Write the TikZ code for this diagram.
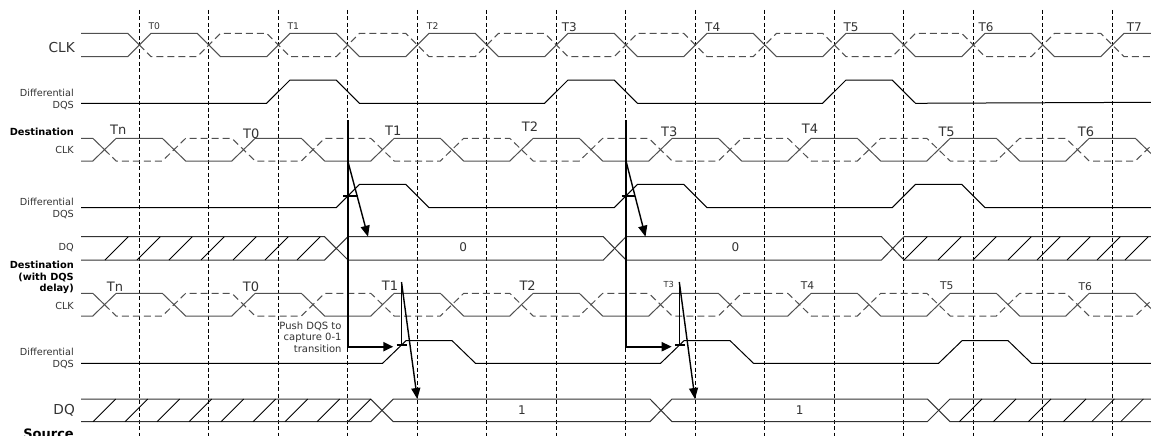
\documentclass[tikz,border=0pt]{standalone}
\usepackage{fontspec}
\setmainfont{DejaVu Sans}
\usetikzlibrary{arrows.meta}
\definecolor{clkc}{HTML}{505050}
\definecolor{txtc}{HTML}{333333}
\newcommand\fsz[1]{\fontsize{#1}{#1}\selectfont}
\def\hpw{69.5}
\def\trw{11.7}
% clock row: #1 first crossing x, #2 high y, #3 low y
\newcommand\clockrow[3]{%
  \draw[clk] (81,#3) \foreach \k in {0,2,...,14} { -- ({#1+\k*\hpw-\trw},#3) -- ({#1+\k*\hpw+\trw},#2) -- ({#1+(\k+1)*\hpw-\trw},#2) -- ({#1+(\k+1)*\hpw+\trw},#3) };
  \draw[clk] (81,#2) -- ({#1-\trw},#2) -- ({#1},{(#2+#3)/2});
  \draw[clkd] ({#1},{(#2+#3)/2}) -- ({#1+\trw},#3) \foreach \k in {1,3,...,15} { -- ({#1+\k*\hpw-\trw},#3) -- ({#1+\k*\hpw+\trw},#2) -- ({#1+(\k+1)*\hpw-\trw},#2) -- ({#1+(\k+1)*\hpw+\trw},#3) };
}
\begin{document}
\begin{tikzpicture}[x=1pt,y=-1pt,
  clk/.style={draw=clkc, line width=1pt},
  clkd/.style={draw=clkc, line width=1pt, dash pattern=on 7pt off 4pt},
  sig/.style={draw=black, line width=1pt},
  bus/.style={draw=txtc, line width=1pt},
  hatch/.style={draw=black, line width=0.8pt},
  gridl/.style={draw=black, line width=0.8pt, dash pattern=on 4pt off 2.5pt},
  thkarrow/.style={draw=black, line width=2pt, -{Triangle[length=10pt,width=9pt]}},
  diagarrow/.style={draw=black, line width=1.4pt, -{Triangle[length=11pt,width=9pt]}},
  thin/.style={draw=black, line width=1.2pt},
  lab/.style={anchor=base east, inner sep=0pt, text=txtc, font=\fsz{9.7}},
  blab/.style={anchor=base east, inner sep=0pt, text=black, font=\bfseries\fsz{9.8}},
  tlab/.style={anchor=base west, inner sep=0pt, text=txtc},
  val/.style={anchor=base, inner sep=0pt, text=txtc, font=\fsz{12}}
]
\useasboundingbox (0,0) rectangle (1151,436);
\clip (0,0) rectangle (1151,436);
\fill[white] (0,0) rectangle (1151,436);

% vertical dashed grid
\foreach \k in {0,...,14} \draw[gridl] ({139.3+\k*\hpw},10) -- ({139.3+\k*\hpw},436);

% clocks
\clockrow{139.3}{33.3}{56.7}
\clockrow{104.5}{138.3}{161}
\clockrow{104.5}{293.3}{316}

% DQS rows
\draw[sig] (81,103.3) -- (266.6,103.3) -- (290,80) -- (336.1,80) -- (359.5,103.3)
  -- (544.6,103.3) -- (568,80) -- (614.1,80) -- (637.5,103.3)
  -- (822.6,103.3) -- (846,80) -- (892.1,80) -- (915.5,103.3) -- (1151,102.3);
\draw[sig] (81,207.7) -- (336.1,207.7) -- (359.5,184.3) -- (405.6,184.3) -- (429,207.7)
  -- (614.1,207.7) -- (637.5,184.3) -- (683.6,184.3) -- (707,207.7)
  -- (892.1,207.7) -- (915.5,184.3) -- (961.6,184.3) -- (985,207.7) -- (1151,207.7);
\draw[sig] (81,363.3) -- (382.6,363.3) -- (406,340.7) -- (452.1,340.7) -- (475.5,363.3)
  -- (660.6,363.3) -- (684,340.7) -- (730.1,340.7) -- (753.5,363.3)
  -- (938.6,363.3) -- (962,340.7) -- (1008.1,340.7) -- (1031.5,363.3) -- (1151,363.3);

% DQ destination bus
\draw[bus] (81,236.7) -- (324.6,236.7) -- (348,260) -- (603.3,260) -- (626,236.7) -- (881.5,236.7) -- (904,260) -- (1160,260);
\draw[bus] (81,260) -- (324.6,260) -- (348,236.7) -- (603.3,236.7) -- (626,260) -- (881.5,260) -- (904,236.7) -- (1160,236.7);
\foreach \x in {105,137,169,201,233,265,297,904,938,973,1008,1037,1067,1097,1125}
  \draw[hatch] (\x,260) -- ({\x+23.3},236.7);

% DQ lower bus
\draw[bus] (81,399) -- (370.7,399) -- (393.3,421.7) -- (650,421.7) -- (672,399) -- (927.3,399) -- (950,421.7) -- (1160,421.7);
\draw[bus] (81,421.7) -- (370.7,421.7) -- (393.3,399) -- (650,399) -- (672,421.7) -- (927.3,421.7) -- (950,399) -- (1160,399);
\foreach \x in {93,125,157,189,221,253,285,317,348,959.3,993.3,1028.3,1063.3,1091.7,1120.7}
  \draw[hatch] (\x,421.7) -- ({\x+22.7},399);

% arrows and markers
\coordinate (a1s) at (347.8,120);
\coordinate (a1c) at (347.8,346.7);
\coordinate (a1e) at (393.3,346.7);
\coordinate (a2s) at (626,120);
\coordinate (a2c) at (626,346.7);
\coordinate (a2e) at (671.7,346.7);
\draw[thkarrow] (a1s) -- (a1c) -- (a1e);
\draw[thkarrow] (a2s) -- (a2c) -- (a2e);

\coordinate (b1s) at (347.8,161);
\coordinate (b1e) at (368,236.7);
\coordinate (b2s) at (626,161);
\coordinate (b2e) at (645.5,236.7);
\draw[diagarrow] (b1s) -- (b1e);
\draw[diagarrow] (b2s) -- (b2e);
\coordinate (k1a) at (343.3,196);
\coordinate (k1b) at (358.3,196);
\coordinate (k2a) at (621.7,196);
\coordinate (k2b) at (635,196);
\draw[thin] (k1a) -- (k1b);
\draw[thin] (k2a) -- (k2b);

\coordinate (c1s) at (401.5,282);
\coordinate (c1m) at (401.5,345);
\coordinate (c1e) at (417.3,399);
\coordinate (c2s) at (679.3,282);
\coordinate (c2m) at (679.3,345);
\coordinate (c2e) at (695,399);
\coordinate (m1a) at (396.7,345);
\coordinate (m1b) at (406.7,345);
\coordinate (m2a) at (675,345);
\coordinate (m2b) at (684.5,345);
\draw[thin] (c1s) -- (c1m);
\draw[thin] (c2s) -- (c2m);
\draw[thin] (m1a) -- (m1b);
\draw[thin] (m2a) -- (m2b);
\draw[diagarrow] (c1s) -- (c1e);
\draw[diagarrow] (c2s) -- (c2e);

% row labels
\node[lab, font=\fsz{13.7}] (clkA) at (75,52.5) {CLK};
\node[lab] (dqsA1) at (74,96.7) {Differential};
\node[lab] (dqsA2) at (74,108.7) {DQS};
\node[blab] (dstB) at (74,135) {Destination};
\node[lab] (clkB) at (74,153.3) {CLK};
\node[lab] (dqsB1) at (74,205) {Differential};
\node[lab] (dqsB2) at (74,217) {DQS};
\node[lab] (dqB) at (74,250) {DQ};
\node[blab] (dstC1) at (74,268.3) {Destination};
\node[blab] (dstC2) at (74,280) {(with DQS};
\node[blab] (dstC3) at (74,291.7) {delay)};
\node[lab] (clkC) at (74,309) {CLK};
\node[lab] (dqsC1) at (74,355) {Differential};
\node[lab] (dqsC2) at (74,367) {DQS};
\node[lab, font=\fsz{13.7}] (dqC) at (75,414) {DQ};
\node[blab, font=\bfseries\fsz{13}] (src) at (74,438.5) {Source};

% source clock labels
\node[tlab, font=\fsz{9.2}] (sT0) at (148.3,30) {T0};
\node[tlab, font=\fsz{9.2}] (sT1) at (287.3,29.3) {T1};
\node[tlab, font=\fsz{9.2}] (sT2) at (426.7,30) {T2};
\node[tlab, font=\fsz{12}] (sT3) at (561.7,31.5) {T3};
\node[tlab, font=\fsz{12}] (sT4) at (705,31.5) {T4};
\node[tlab, font=\fsz{12}] (sT5) at (843.3,31.7) {T5};
\node[tlab, font=\fsz{12}] (sT6) at (978.3,31.7) {T6};
\node[tlab, font=\fsz{12}] (sT7) at (1126.7,31.7) {T7};

% destination clock labels
\node[tlab, font=\fsz{13}] (dTn) at (110,134) {Tn};
\node[tlab, font=\fsz{13}] (dT0) at (243,138.3) {T0};
\node[tlab, font=\fsz{13}] (dT1) at (385,135) {T1};
\node[tlab, font=\fsz{13}] (dT2) at (521.7,131.7) {T2};
\node[tlab, font=\fsz{13}] (dT3) at (661,136) {T3};
\node[tlab, font=\fsz{13}] (dT4) at (801.7,133.3) {T4};
\node[tlab, font=\fsz{13}] (dT5) at (938.3,136.7) {T5};
\node[tlab, font=\fsz{13}] (dT6) at (1077.7,136.7) {T6};

% delayed clock labels
\node[tlab, font=\fsz{13}] (eTn) at (106.7,291) {Tn};
\node[tlab, font=\fsz{13}] (eT0) at (242.7,291) {T0};
\node[tlab, font=\fsz{13}] (eT1) at (381.7,290) {T1};
\node[tlab, font=\fsz{13}] (eT2) at (519.3,290) {T2};
\node[tlab, font=\fsz{8.3}] (eT3) at (663.3,287.7) {T3};
\node[tlab, font=\fsz{10.7}] (eT4) at (800.7,289) {T4};
\node[tlab, font=\fsz{10.7}] (eT5) at (940,289) {T5};
\node[tlab, font=\fsz{10.7}] (eT6) at (1078.3,290.5) {T6};

% bus values
\node[val] (v0a) at (463.3,251.7) {0};
\node[val] (v0b) at (735.5,251.7) {0};
\node[val] (v1a) at (522,414.3) {1};
\node[val] (v1b) at (799.7,414.3) {1};

% note
\node[lab, font=\fsz{10}] (pn1) at (341.7,329) {Push DQS to};
\node[lab, font=\fsz{10}] (pn2) at (341.7,340.8) {capture 0-1};
\node[lab, font=\fsz{10}] (pn3) at (341.7,352.7) {transition};
\end{tikzpicture}
\end{document}
